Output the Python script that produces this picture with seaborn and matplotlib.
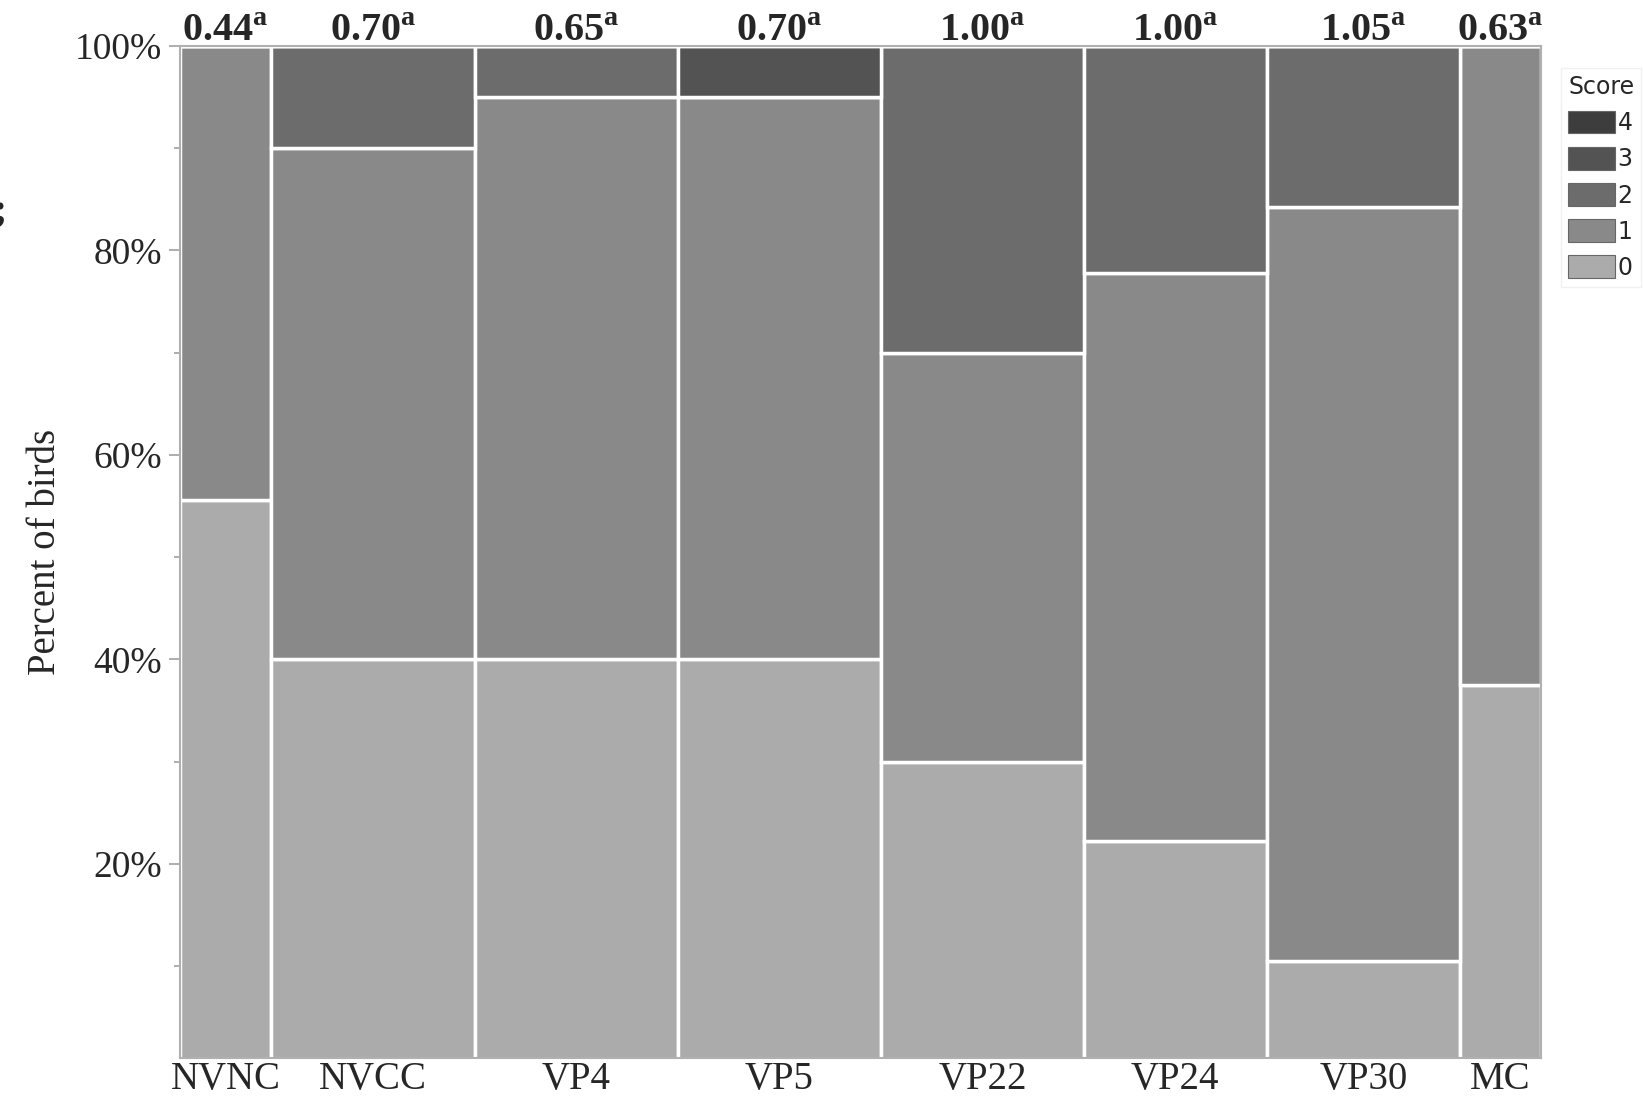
import numpy as np
import pandas as pd
import seaborn as sns
import matplotlib.pyplot as plt
from matplotlib.ticker import PercentFormatter, MultipleLocator
from matplotlib.transforms import blended_transform_factory

groups = ["NVNC", "NVCC", "VP4", "VP5", "VP22", "VP24", "VP30", "MC"]
# number of birds with each score, per group
score_0 = [5, 8, 8, 8, 6, 4, 2, 3]
score_1 = [4, 10, 11, 11, 8, 10, 14, 5]
score_2 = [0, 2, 1, 0, 6, 4, 3, 0]
score_3 = [0, 0, 0, 1, 0, 0, 0, 0]
score_4 = [0, 0, 0, 0, 0, 0, 0, 0]
mean_scores = ["0.44", "0.70", "0.65", "0.70", "1.00", "1.00", "1.05", "0.63"]
letters = ["a", "a", "a", "a", "a", "a", "a", "a"]

score_cols = {"0": score_0, "1": score_1, "2": score_2, "3": score_3, "4": score_4}
totals = np.sum([score_0, score_1, score_2, score_3, score_4], axis=0)
edges = np.concatenate([[0], np.cumsum(totals)]).astype(float)
mids = (edges[:-1] + edges[1:]) / 2

rows = []
for i, g in enumerate(groups):
    for s, vals in score_cols.items():
        rows.append({"group": g, "pos": mids[i], "Score": s, "n": vals[i]})
df = pd.DataFrame(rows)

pal = {"0": "#ababab", "1": "#898989", "2": "#6c6c6c", "3": "#535353", "4": "#3d3d3d"}

sns.set_theme(style="white")
plt.rcParams["font.family"] = ["Liberation Serif", "DejaVu Serif"]
plt.rcParams["mathtext.fontset"] = "custom"
plt.rcParams["mathtext.rm"] = "Liberation Serif"
plt.rcParams["mathtext.bf"] = "Liberation Serif:bold"

fig = plt.figure(figsize=(16.44, 10.99), dpi=100)
ax = fig.add_axes([180 / 1644, 1 - 1058 / 1099, (1541 - 180) / 1644, (1058 - 46) / 1099])

sns.histplot(data=df, x="pos", weights="n", hue="Score", hue_order=["4", "3", "2", "1", "0"],
             multiple="fill", bins=list(edges), palette=pal, edgecolor="white", linewidth=2.5,
             alpha=1, ax=ax)

ax.set_xlim(edges[0], edges[-1])
ax.set_ylim(0.01, 1.0)
ax.set_xticks(mids, groups, fontsize=28)
ax.tick_params(axis="x", length=0, pad=2)
ax.set_yticks([0.2, 0.4, 0.6, 0.8, 1.0])
ax.yaxis.set_major_formatter(PercentFormatter(1.0, decimals=0))
ax.yaxis.set_minor_locator(MultipleLocator(0.1))
ax.tick_params(axis="y", which="major", labelsize=27, length=8, width=1.2, color="#a0a0a0", pad=5, left=True)
ax.tick_params(axis="y", which="minor", length=4.5, width=1.2, color="#a0a0a0", left=True)
ax.set_xlabel("")
ax.set_ylabel("Percent of birds", fontsize=28, labelpad=8)
for sp in ax.spines.values():
    sp.set_color("#b0b0b0")
    sp.set_linewidth(1.5)
    sp.set_zorder(5)

# mean score labels above each column
tr = blended_transform_factory(ax.transData, ax.transAxes)
for m, txt, let in zip(mids, mean_scores, letters):
    ax.text(m, 1.005, r"$\mathbf{" + txt + r"}^{\mathbf{" + let + r"}}$", transform=tr,
            ha="center", va="baseline", fontsize=29)

sns.move_legend(ax, "upper left", bbox_to_anchor=(1.006, 0.99), title="Score",
                frameon=True, fancybox=False, fontsize=17, title_fontsize=17,
                handlelength=2.0, handleheight=1.1, handletextpad=0.1,
                labelspacing=0.5, borderpad=0.3, alignment="left")
leg = ax.get_legend()
leg.get_frame().set_edgecolor("#eeeeee")
for t in leg.get_texts():
    t.set_family("DejaVu Sans")
leg.get_title().set_family("DejaVu Sans")
for p in leg.get_patches():
    p.set_edgecolor("#666666")
    p.set_linewidth(0.8)

fig.text(0.0, 1 - 212 / 1099, ";", ha="center", va="center", fontsize=28, fontweight="bold")

fig.savefig("out.png", dpi=100)
